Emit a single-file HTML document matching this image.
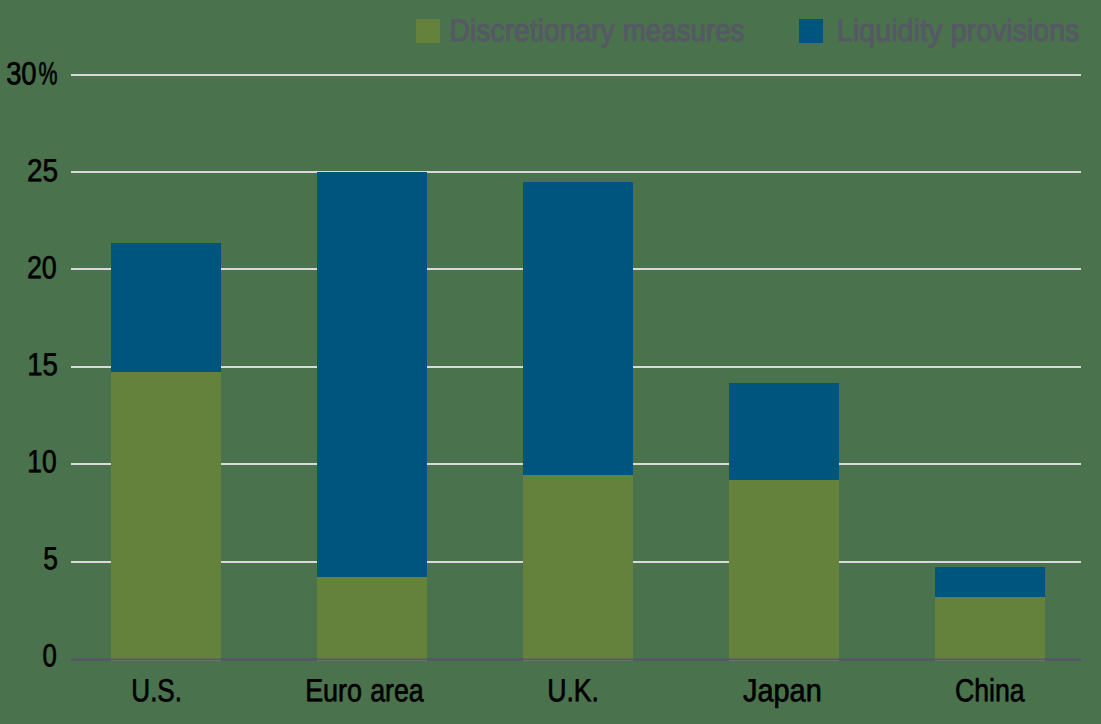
<!DOCTYPE html>
<html>
<head>
<meta charset="utf-8">
<title>Chart</title>
<style>
  html, body { margin: 0; padding: 0; background: #4a734d; }
  body { width: 1101px; height: 724px; overflow: hidden; }
  svg { display: block; }
  text { font-family: "Liberation Sans", sans-serif; stroke-linejoin: round; text-rendering: geometricPrecision; }
  .ax text { font-size: 31.9px; fill: #000000; stroke: #000000; stroke-width: 0.7px; }
  .lg text { font-size: 31.25px; fill: #555963; stroke: #555963; stroke-width: 1.15px; }
</style>
</head>
<body>
<svg width="1101" height="724" viewBox="0 0 1101 724">
  <rect x="0" y="0" width="1101" height="724" fill="#4a734d"/>

  <!-- gridlines -->
  <g fill="#dad9db">
    <rect x="71" y="74" width="1010" height="2"/>
    <rect x="71" y="171" width="1010" height="2"/>
    <rect x="71" y="268" width="1010" height="2"/>
    <rect x="71" y="366" width="1010" height="2"/>
    <rect x="71" y="463" width="1010" height="2"/>
    <rect x="71" y="561" width="1010" height="2"/>
  </g>

  <!-- bars: liquidity provisions (blue) -->
  <g fill="#00557f">
    <rect x="111" y="243" width="110" height="129"/>
    <rect x="317" y="172" width="110" height="405"/>
    <rect x="523" y="182" width="110" height="293"/>
    <rect x="729" y="383" width="110" height="97"/>
    <rect x="935" y="567" width="110" height="30"/>
  </g>
  <!-- bars: discretionary measures (green) -->
  <g fill="#64823c">
    <rect x="111" y="372" width="110" height="287"/>
    <rect x="317" y="577" width="110" height="82"/>
    <rect x="523" y="475" width="110" height="184"/>
    <rect x="729" y="480" width="110" height="179"/>
    <rect x="935" y="597" width="110" height="62"/>
  </g>

  <!-- zero axis -->
  <rect x="71" y="658" width="1010" height="3" fill="#545964"/>
  <g>
    <rect x="111" y="658" width="110" height="1" fill="#5d6e52"/><rect x="111" y="660" width="110" height="1" fill="#6b7563"/>
    <rect x="317" y="658" width="110" height="1" fill="#5d6e52"/><rect x="317" y="660" width="110" height="1" fill="#6b7563"/>
    <rect x="523" y="658" width="110" height="1" fill="#5d6e52"/><rect x="523" y="660" width="110" height="1" fill="#6b7563"/>
    <rect x="729" y="658" width="110" height="1" fill="#5d6e52"/><rect x="729" y="660" width="110" height="1" fill="#6b7563"/>
    <rect x="935" y="658" width="110" height="1" fill="#5d6e52"/><rect x="935" y="660" width="110" height="1" fill="#6b7563"/>
  </g>

  <!-- y axis labels -->
  <g class="ax">
    <text transform="rotate(0.05 21.38 84.3)" x="6.14" y="84.3" textLength="30.48" lengthAdjust="spacingAndGlyphs">30</text>
    <text transform="rotate(0.05 47.89 84.3)" x="38.40" y="84.3" textLength="18.98" lengthAdjust="spacingAndGlyphs">%</text>
    <text transform="rotate(0.05 42.49 181.3)" x="26.94" y="181.3" textLength="31.11" lengthAdjust="spacingAndGlyphs">25</text>
    <text transform="rotate(0.05 41.84 278.3)" x="26.94" y="278.3" textLength="29.80" lengthAdjust="spacingAndGlyphs">20</text>
    <text transform="rotate(0.05 42.50 375.3)" x="27.15" y="375.3" textLength="30.69" lengthAdjust="spacingAndGlyphs">15</text>
    <text transform="rotate(0.05 42.03 472.3)" x="27.36" y="472.3" textLength="29.35" lengthAdjust="spacingAndGlyphs">10</text>
    <text transform="rotate(0.05 50.62 569.3)" x="43.29" y="569.3" textLength="14.65" lengthAdjust="spacingAndGlyphs">5</text>
    <text transform="rotate(0.05 49.58 666.3)" x="42.44" y="666.3" textLength="14.30" lengthAdjust="spacingAndGlyphs">0</text>
  </g>

  <!-- x axis labels -->
  <g class="ax">
    <text transform="rotate(0.05 156.66 701.2)" x="131.33" y="701.2" textLength="50.66" lengthAdjust="spacingAndGlyphs">U.S.</text>
    <text transform="rotate(0.05 333.56 701.2)" x="305.14" y="701.2" textLength="56.84" lengthAdjust="spacingAndGlyphs">Euro</text>
    <text transform="rotate(0.05 396.91 701.2)" x="370.15" y="701.2" textLength="53.53" lengthAdjust="spacingAndGlyphs">area</text>
    <text transform="rotate(0.05 573.08 701.2)" x="547.14" y="701.2" textLength="51.89" lengthAdjust="spacingAndGlyphs">U.K.</text>
    <text transform="rotate(0.05 782.41 701.2)" x="743.12" y="701.2" textLength="78.58" lengthAdjust="spacingAndGlyphs">Japan</text>
    <text transform="rotate(0.05 989.72 701.2)" x="954.91" y="701.2" textLength="69.62" lengthAdjust="spacingAndGlyphs">China</text>
  </g>

  <!-- legend -->
  <rect x="416" y="19" width="24" height="24" fill="#64823c"/>
  <rect x="799" y="19" width="24" height="24" fill="#00557f"/>
  <g class="lg">
    <text transform="rotate(0.05 532.18 41.0)" x="449.62" y="41.0" textLength="165.11" lengthAdjust="spacingAndGlyphs">Discretionary</text>
    <text transform="rotate(0.05 683.64 41.0)" x="622.79" y="41.0" textLength="121.71" lengthAdjust="spacingAndGlyphs">measures</text>
    <text transform="rotate(0.05 889.54 41.0)" x="836.70" y="41.0" textLength="105.68" lengthAdjust="spacingAndGlyphs">Liquidity</text>
    <text transform="rotate(0.05 1015.10 41.0)" x="950.87" y="41.0" textLength="128.46" lengthAdjust="spacingAndGlyphs">provisions</text>
  </g>
</svg>
</body>
</html>
